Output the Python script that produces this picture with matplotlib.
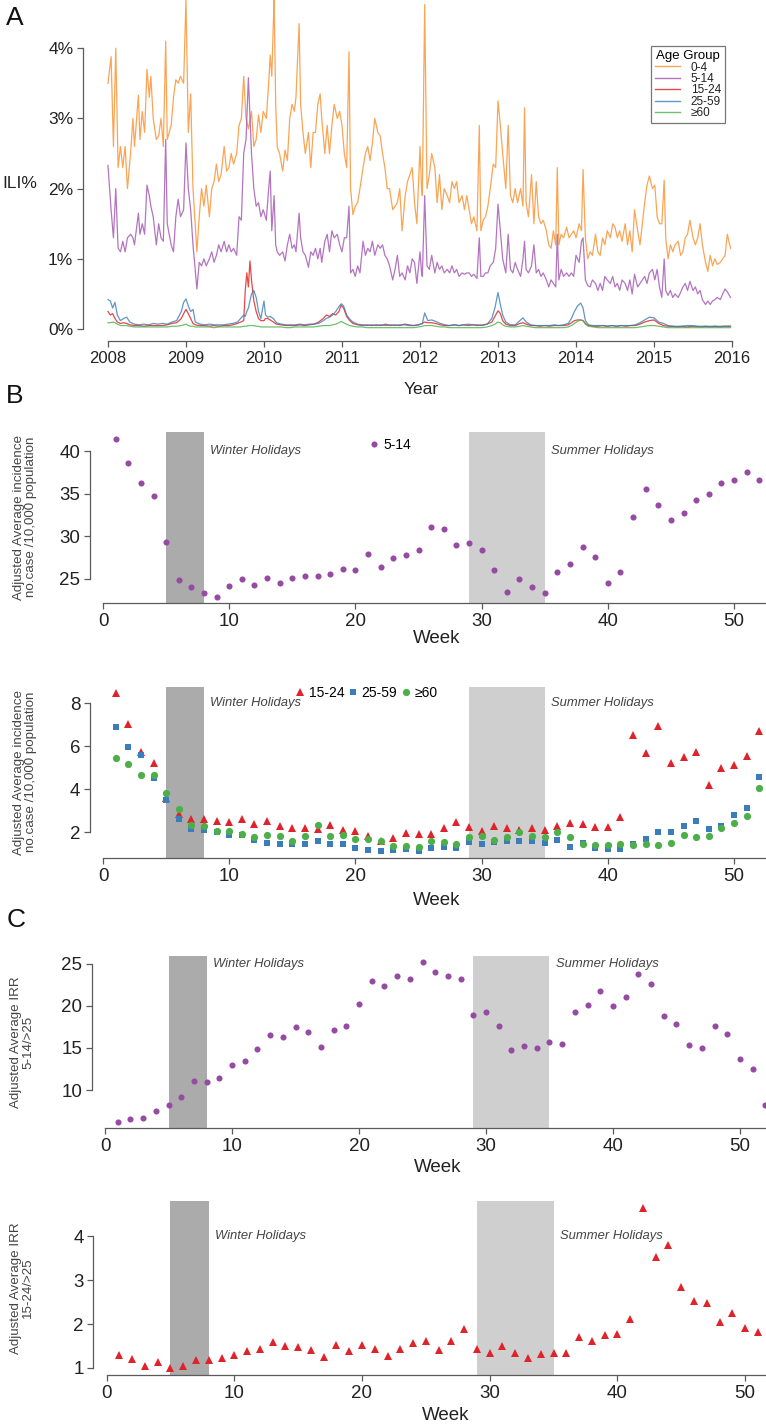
import matplotlib
matplotlib.use('Agg')
import matplotlib.pyplot as plt
import numpy as np
from matplotlib import font_manager as fm
from matplotlib.lines import Line2D

avail = {f.name for f in fm.fontManager.ttflist}
NARROW = 'Liberation Sans Narrow' if 'Liberation Sans Narrow' in avail else 'Liberation Sans'
REG = 'Liberation Sans'

# ---------------- DATA ----------------
# Panel A: weekly ILI% by age group (time in years since 2008)
t_main_off = [
    0.00,0.04,0.07,0.10,0.13,0.16,0.19,0.22,0.25,0.29,
    0.32,0.34,0.39,0.41,0.44,0.47,0.50,0.53,0.55,0.58,
    0.62,0.65,0.68,0.71,0.74,0.76,0.81,0.84,0.87,0.90,
    0.93,0.97,1.00,1.03,1.06,1.09,1.14,1.17,1.20,1.23,
    1.26,1.30,1.33,1.36,1.39,1.42,1.45,1.49,1.52,1.55,
    1.58,1.61,1.65,1.68,1.71,1.74,1.77,1.80,1.84,1.87,
    1.90,1.93,1.96,1.99,2.03,2.06,2.08,2.10,2.13,2.15,
    2.17,2.20,2.24,2.27,2.30,2.33,2.36,2.39,2.41,2.45,
    2.47,2.50,2.53,2.57,2.60,2.63,2.66,2.69,2.72,2.74,
    2.78,2.81,2.84,2.87,2.90,2.94,2.97,3.00,3.03,3.06,
    3.09,3.11,3.14,3.17,3.20,3.23,3.27,3.30,3.33,3.36,
    3.39,3.42,3.46,3.49,3.52,3.55,3.58,3.61,3.65,3.68,
    3.71,3.74,3.77,3.81,3.84,3.87,3.90,3.93,3.96,4.00,
    4.02,4.03,4.06,4.09,4.12,4.15,4.19,4.22,4.25,4.28,
    4.31,4.35,4.38,4.41,4.44,4.47,4.50,4.54,4.57,4.60,
    4.63,4.66,4.69,4.73,4.76,4.78,4.81,4.84,4.87,4.90,
    4.94,4.97,5.00,5.03,5.06,5.10,5.13,5.16,5.19,5.22,
    5.25,5.29,5.32,5.34,5.36,5.39,5.43,5.46,5.49,5.52,
    5.55,5.58,5.62,5.65,5.68,5.71,5.74,5.76,5.78,5.81,
    5.84,5.88,5.91,5.94,5.97,6.00,6.04,6.07,6.09,6.12,
    6.15,6.18,6.21,6.25,6.28,6.31,6.34,6.37,6.40,6.44,
    6.47,6.50,6.53,6.56,6.59,6.63,6.66,6.69,6.72,6.75,
    6.79,6.82,6.85,6.88,6.91,6.94,6.98,7.01,7.04,7.07,
    7.10,7.13,7.15,7.18,7.21,7.24,7.27,7.31,7.34,7.37,
    7.40,7.43,7.46,7.50,7.53,7.56,7.59,7.62,7.66,7.69,
    7.72,7.75,7.78,7.81,7.85,7.88,7.91,7.94,7.98]
ili_0_4 = [
    3.5,3.88,2.6,4.0,2.3,2.6,2.3,2.6,2.0,2.5,
    3.0,2.6,3.33,2.7,3.1,2.8,3.7,3.3,3.6,3.0,
    2.7,2.75,3.0,2.6,4.1,2.7,2.9,3.3,3.55,3.5,
    3.6,3.5,4.7,2.8,3.35,2.0,1.1,1.6,2.0,1.75,
    2.05,1.6,2.0,2.1,2.35,2.1,2.2,2.6,2.25,2.3,
    2.5,2.35,2.5,2.9,3.0,3.6,3.0,2.85,3.1,2.6,
    2.7,3.05,2.8,3.1,3.0,3.5,3.9,3.6,4.72,3.2,
    2.6,2.5,2.25,2.55,2.4,3.0,3.2,3.1,3.3,4.35,
    3.2,2.8,2.5,2.8,2.3,2.8,2.8,3.2,3.35,3.0,
    2.5,2.9,2.5,2.9,3.2,3.0,3.1,2.9,2.5,2.3,
    3.95,2.0,1.63,1.75,1.8,2.0,2.3,2.5,2.6,2.4,
    2.65,3.0,2.8,2.75,2.5,2.3,2.0,2.0,1.7,1.75,
    1.8,2.0,1.4,1.9,2.1,2.2,2.3,1.8,1.5,2.6,
    2.0,1.9,4.62,2.0,2.2,2.5,2.3,1.8,2.2,1.7,
    2.0,1.9,1.8,2.1,2.0,2.1,1.8,1.9,1.7,1.9,
    1.7,1.5,1.6,1.4,2.9,1.4,1.55,1.6,1.75,2.0,
    2.35,2.3,3.25,2.9,2.5,2.0,2.9,1.9,1.8,2.0,
    1.8,2.0,1.75,3.15,1.8,1.6,2.2,1.5,2.1,1.6,
    1.5,1.55,1.4,1.2,1.15,1.4,1.2,2.3,1.2,1.35,
    1.3,1.45,1.3,1.35,1.4,1.3,1.5,1.4,2.27,1.3,
    1.0,1.1,1.05,1.35,1.1,1.05,1.3,1.2,1.4,1.3,
    1.5,1.45,1.3,1.4,1.25,1.5,1.2,1.4,1.1,1.7,
    1.4,1.2,1.5,1.8,2.05,2.18,2.0,2.05,1.6,1.5,
    1.5,2.12,1.3,1.0,1.2,1.1,1.2,1.25,1.05,1.1,
    1.3,1.35,1.55,1.3,1.2,1.3,1.5,1.2,0.95,0.82,
    1.05,0.9,1.0,0.92,0.95,1.0,1.05,1.35,1.15]
ili_5_14 = [
    2.33,1.7,1.3,2.0,1.15,1.1,1.25,1.1,1.3,1.35,
    1.3,1.2,1.65,1.35,1.5,1.35,2.05,1.9,1.75,1.6,
    1.2,1.5,1.3,1.25,2.7,1.5,1.2,1.1,1.6,1.85,
    1.6,1.7,2.65,2.0,1.7,1.2,0.57,0.95,0.9,1.0,
    0.9,1.0,1.1,0.95,1.05,1.2,1.1,1.25,1.1,1.2,
    1.1,1.15,1.05,1.6,1.55,2.5,2.7,3.58,2.5,2.0,
    1.75,1.8,1.6,1.7,1.55,2.0,2.25,1.4,1.9,1.2,
    1.1,1.05,1.1,0.97,1.2,1.35,1.15,1.2,1.1,1.65,
    1.3,1.1,1.05,0.88,1.1,1.05,1.15,1.0,1.15,0.95,
    1.25,1.35,1.1,1.4,1.3,1.35,1.2,1.1,1.3,1.3,
    1.75,0.8,0.85,0.75,0.9,0.8,1.25,1.05,1.15,1.1,
    1.25,1.05,1.2,1.15,1.2,1.05,1.0,0.9,0.7,0.85,
    1.05,0.75,0.8,0.7,0.9,0.8,1.0,0.95,0.65,1.1,
    0.8,0.75,1.9,0.9,0.85,1.05,0.8,0.95,0.85,0.9,
    0.8,0.85,0.8,0.9,0.8,0.85,0.75,0.8,0.78,0.8,
    0.8,0.75,0.78,0.72,1.3,0.75,0.75,0.8,0.8,0.9,
    0.95,1.15,1.78,1.4,1.0,0.8,1.35,0.85,0.8,0.95,
    0.85,0.75,1.0,1.25,0.85,0.8,0.9,1.2,0.8,0.85,
    0.75,0.8,0.7,0.6,0.7,0.65,0.6,1.35,0.7,0.85,
    0.75,0.8,0.75,0.8,0.75,1.05,0.95,1.25,1.3,0.7,
    0.62,0.6,0.7,0.65,0.55,0.65,0.55,0.75,0.7,0.65,
    0.75,0.6,0.65,0.55,0.7,0.65,0.55,0.7,0.5,0.78,
    0.6,0.65,0.7,0.75,0.65,0.8,0.85,0.7,0.85,0.6,
    0.45,1.0,0.55,0.48,0.55,0.45,0.5,0.45,0.52,0.6,
    0.65,0.55,0.68,0.55,0.6,0.5,0.55,0.42,0.35,0.4,
    0.35,0.4,0.42,0.45,0.42,0.5,0.57,0.53,0.45]

t_low_off = [
    0.00,0.03,0.06,0.09,0.12,0.16,0.20,0.24,0.28,0.34,
    0.40,0.46,0.52,0.58,0.64,0.70,0.76,0.82,0.88,0.94,
    0.97,1.00,1.03,1.06,1.09,1.12,1.18,1.24,1.30,1.36,
    1.42,1.48,1.54,1.60,1.66,1.70,1.74,1.76,1.78,1.80,
    1.82,1.84,1.87,1.90,1.93,1.96,2.00,2.02,2.05,2.08,
    2.12,2.16,2.22,2.28,2.34,2.40,2.46,2.52,2.58,2.64,
    2.70,2.76,2.80,2.84,2.88,2.92,2.96,2.99,3.02,3.06,
    3.10,3.14,3.20,3.26,3.32,3.38,3.44,3.50,3.56,3.62,
    3.68,3.74,3.80,3.86,3.92,3.98,4.03,4.06,4.10,4.15,
    4.20,4.26,4.32,4.38,4.44,4.50,4.56,4.62,4.68,4.74,
    4.80,4.86,4.92,4.96,5.00,5.03,5.06,5.10,5.16,5.22,
    5.28,5.32,5.36,5.42,5.48,5.54,5.60,5.66,5.72,5.78,
    5.84,5.90,5.94,5.98,6.02,6.06,6.09,6.12,6.16,6.22,
    6.28,6.34,6.40,6.46,6.52,6.58,6.64,6.70,6.76,6.82,
    6.88,6.94,7.00,7.06,7.12,7.18,7.24,7.30,7.36,7.42,
    7.48,7.54,7.60,7.66,7.72,7.78,7.84,7.90,7.98]
ili_15_24 = [
    .25,.20,.22,.15,.10,.08,.09,.08,.06,.05,
    .05,.04,.05,.05,.05,.05,.06,.08,.09,.15,
    .22,.28,.22,.15,.08,.06,.05,.05,.04,.05,
    .04,.05,.05,.06,.08,.10,.12,.55,.80,.60,
    .97,.70,.40,.25,.15,.12,.12,.15,.15,.13,
    .10,.07,.06,.05,.05,.05,.06,.05,.06,.07,
    .10,.15,.20,.18,.22,.20,.25,.34,.30,.18,
    .12,.08,.06,.05,.06,.05,.06,.05,.07,.05,
    .06,.05,.07,.06,.05,.06,.08,.10,.09,.09,
    .08,.06,.05,.05,.06,.05,.06,.05,.06,.05,
    .06,.07,.10,.18,.26,.22,.12,.07,.05,.05,
    .08,.09,.07,.05,.05,.04,.05,.04,.05,.05,
    .05,.06,.09,.12,.13,.13,.12,.08,.05,.04,
    .04,.05,.04,.05,.04,.05,.04,.05,.05,.07,
    .10,.12,.13,.08,.05,.04,.04,.03,.04,.03,
    .04,.04,.03,.04,.03,.04,.03,.04,.04]
ili_25_59 = [
    .42,.40,.30,.38,.20,.12,.15,.17,.10,.07,
    .06,.07,.06,.08,.07,.08,.07,.10,.12,.25,
    .38,.43,.33,.25,.28,.10,.07,.06,.07,.06,
    .06,.06,.07,.08,.10,.15,.20,.18,.25,.30,
    .40,.50,.55,.45,.25,.15,.40,.20,.17,.18,
    .15,.09,.07,.06,.06,.06,.07,.06,.07,.07,
    .08,.12,.15,.17,.20,.25,.32,.36,.33,.20,
    .14,.10,.07,.06,.05,.06,.05,.06,.05,.06,
    .05,.06,.06,.05,.05,.06,.08,.23,.12,.13,
    .11,.08,.06,.05,.06,.05,.06,.07,.06,.06,
    .05,.07,.15,.30,.52,.35,.20,.10,.06,.06,
    .12,.16,.10,.06,.05,.05,.05,.05,.06,.05,
    .06,.08,.15,.25,.33,.37,.30,.12,.06,.05,
    .05,.05,.04,.05,.04,.05,.05,.05,.06,.09,
    .13,.17,.16,.10,.08,.05,.04,.04,.04,.05,
    .05,.04,.04,.04,.04,.04,.04,.04,.04]
ili_60 = [
    .09,.09,.10,.09,.07,.05,.05,.05,.04,.03,
    .03,.03,.03,.03,.03,.03,.03,.04,.04,.05,
    .06,.07,.05,.04,.04,.03,.03,.03,.03,.02,
    .03,.03,.03,.03,.03,.03,.04,.04,.04,.05,
    .05,.05,.05,.04,.04,.03,.03,.03,.03,.03,
    .03,.03,.03,.02,.02,.03,.03,.03,.03,.03,
    .04,.05,.05,.05,.06,.07,.09,.11,.09,.07,
    .05,.04,.03,.03,.02,.02,.02,.02,.02,.02,
    .02,.02,.02,.02,.02,.03,.04,.05,.05,.05,
    .04,.03,.03,.02,.02,.02,.02,.02,.02,.02,
    .02,.03,.05,.07,.10,.09,.06,.04,.03,.03,
    .04,.05,.04,.03,.02,.02,.02,.02,.02,.02,
    .02,.03,.05,.08,.11,.13,.12,.07,.04,.03,
    .02,.02,.02,.02,.02,.02,.02,.02,.02,.03,
    .04,.05,.05,.04,.03,.02,.02,.02,.02,.02,
    .02,.02,.02,.02,.02,.02,.02,.02,.02]

age_labels = ['0-4', '5-14', '15-24', '25-59', '\u226560']
year_ticks = list(range(2008, 2017))

# Panels B/C: weekly values
weeks = list(range(1, 53))
inc_5_14 = [41.4,38.6,36.3,34.7,29.3,24.9,24.0,23.3,22.9,24.2,
            25.0,24.3,25.1,24.5,25.1,25.3,25.3,25.6,26.1,26.0,
            27.9,26.4,27.4,27.8,28.4,31.1,30.9,29.0,29.2,28.4,
            26.0,23.5,25.0,24.0,23.3,25.8,26.7,28.7,27.6,24.5,
            25.8,32.3,35.6,33.7,31.9,32.7,34.2,35.0,36.3,36.6,
            37.6,36.6]
inc_15_24 = [8.46,7.05,5.72,5.24,3.6,2.84,2.64,2.6,2.52,2.5,
             2.62,2.41,2.52,2.29,2.21,2.18,2.15,2.35,2.12,2.06,
             1.83,1.58,1.74,1.95,1.92,1.92,2.2,2.46,2.27,2.07,
             2.3,2.21,2.1,2.2,2.12,2.3,2.43,2.38,2.27,2.26,
             2.72,6.5,5.7,6.94,5.2,5.52,5.73,4.22,4.97,5.14,
             5.55,6.73]
inc_25_59 = [6.87,5.98,5.61,4.54,3.5,2.61,2.15,2.12,2.0,1.87,
             1.89,1.66,1.49,1.48,1.48,1.48,1.58,1.46,1.45,1.26,
             1.16,1.12,1.19,1.23,1.14,1.29,1.32,1.26,1.57,1.45,
             1.54,1.6,1.61,1.61,1.49,1.64,1.34,1.51,1.26,1.23,
             1.23,1.45,1.69,2.0,2.0,2.29,2.52,2.14,2.3,2.82,
             3.15,4.57]
inc_60 = [5.44,5.18,4.66,4.66,3.82,3.07,2.32,2.3,2.06,2.06,
          1.92,1.77,1.89,1.84,1.61,1.84,2.33,1.84,1.89,1.68,
          1.71,1.58,1.38,1.38,1.34,1.58,1.57,1.45,1.8,1.83,
          1.63,1.78,2.03,1.83,1.78,2.03,1.8,1.46,1.43,1.4,
          1.45,1.43,1.48,1.43,1.52,1.89,1.78,1.83,2.18,2.43,
          2.76,4.06]
irr_5_14 = [6.27,6.6,6.7,7.57,8.2,9.2,11.06,10.98,11.45,12.95,
            13.5,14.9,16.5,16.24,17.46,16.9,15.07,17.15,17.6,20.17,
            22.9,22.37,23.5,23.15,25.15,23.98,23.5,23.2,18.87,19.2,
            17.6,14.8,15.18,14.99,15.66,15.5,19.3,20.1,21.8,19.93,
            21.07,23.74,22.57,18.84,17.78,15.38,14.99,17.6,16.6,13.73,
            12.5,8.23]
irr_15_24 = [1.30,1.21,1.05,1.14,0.99,1.05,1.18,1.18,1.22,1.30,
             1.38,1.43,1.60,1.49,1.48,1.41,1.26,1.52,1.38,1.52,
             1.43,1.27,1.43,1.56,1.61,1.42,1.62,1.89,1.43,1.33,
             1.51,1.33,1.23,1.32,1.34,1.35,1.71,1.62,1.74,1.78,
             2.12,4.65,3.52,3.80,2.84,2.53,2.47,2.05,2.24,1.90,
             1.82,1.53]

winter = (5, 8)
summer = (29, 35)

# ---------------- STYLE ----------------
W, H = 766, 1424
fig = plt.figure(figsize=(W / 100, H / 100), dpi=100)
AXC = '#5a5a5a'
TXT = '#222222'
LAB = '#444444'
line_cols = ['#F98E2B', '#A052B0', '#E41A1C', '#377EB8', '#4DAF4A']
C_PUR = '#964BA3'
C_RED = '#E0232A'
C_BLU = '#3B7DBB'
C_GRN = '#4DAF4A'
WINTER_C = '#ABABAB'
SUMMER_C = '#CFCFCF'


def ax_px(l, t, r, b):
    return fig.add_axes([l / W, 1 - b / H, (r - l) / W, (b - t) / H])


def rstyle(ax, xb, yb, fs_x, fs_y):
    for s in ['top', 'right']:
        ax.spines[s].set_visible(False)
    for s in ['left', 'bottom']:
        ax.spines[s].set_color(AXC)
        ax.spines[s].set_linewidth(0.9)
    ax.spines['left'].set_bounds(*yb)
    ax.spines['bottom'].set_bounds(*xb)
    ax.tick_params(direction='out', length=4, width=0.9, color=AXC,
                   labelcolor=TXT)
    ax.tick_params(axis='x', pad=3)
    ax.tick_params(axis='y', pad=3)
    for lbl in ax.get_xticklabels():
        lbl.set_fontfamily(NARROW)
        lbl.set_fontsize(fs_x)
    for lbl in ax.get_yticklabels():
        lbl.set_fontfamily(NARROW)
        lbl.set_fontsize(fs_y)
    ax.patch.set_visible(False)


def ftext(x, y, s, **kw):
    return fig.text(x / W, 1 - y / H, s, **kw)


# ---------------- PANEL A ----------------
axA = ax_px(83, -15, 757, 341)
tA = 2008 + np.array(t_main_off)
tL = 2008 + np.array(t_low_off)
series = [(tA, ili_0_4), (tA, ili_5_14), (tL, ili_15_24), (tL, ili_25_59), (tL, ili_60)]
for (tt, vv), c in zip(series, line_cols):
    axA.plot(tt, vv, color=c, lw=0.9, alpha=0.8)
axA.set_xlim(2007.68, 2016.32)
axA.set_ylim(-0.17, 4.9)
axA.set_xticks(year_ticks)
axA.set_yticks([0, 1, 2, 3, 4])
axA.set_yticklabels(['0%', '1%', '2%', '3%', '4%'])
rstyle(axA, (2008, 2016), (0, 4), 12, 12.5)
ftext(20, 184, 'ILI%', ha='center', va='center', fontsize=12.5,
      family=NARROW, color=TXT)
ftext(421, 389, 'Year', ha='center', va='center', fontsize=12.5,
      family=NARROW, color=TXT)
handles = [Line2D([], [], color=c, lw=1.0, alpha=0.8) for c in line_cols]
leg = axA.legend(handles, age_labels, title='Age Group', loc='upper left',
                 bbox_to_anchor=(651 / W, 1 - 46 / H),
                 bbox_transform=fig.transFigure, frameon=True, fancybox=False,
                 edgecolor='#555555', prop={'family': REG, 'size': 8.5},
                 labelspacing=-0.05, handlelength=2.1, handletextpad=0.9,
                 borderpad=0.35, borderaxespad=0)
leg.get_title().set_fontfamily(REG)
leg.get_title().set_fontsize(9.5)
leg.get_frame().set_linewidth(0.9)
for t in leg.get_texts():
    t.set_color(TXT)


# ---------------- helper for week panels ----------------
def week_axes(l, t, r, b, ylim, yticks, fs_x=13.5, fs_y=13.5):
    ax = ax_px(l, t, r, b)
    ax.axvspan(*winter, color=WINTER_C, lw=0, zorder=0)
    ax.axvspan(*summer, color=SUMMER_C, lw=0, zorder=0)
    ax.set_xlim(-1.04, 54.04)
    ax.set_ylim(*ylim)
    ax.set_xticks([0, 10, 20, 30, 40, 50])
    ax.set_yticks(yticks)
    rstyle(ax, (0, 54.04), (yticks[0], yticks[-1]), fs_x, fs_y)
    ytxt = yticks[-1]
    ax.text(winter[1] + 0.5, ytxt, 'Winter Holidays', style='italic',
            family=NARROW, fontsize=9.4, color=LAB, va='center', ha='left')
    ax.text(summer[1] + 0.5, ytxt, 'Summer Holidays', style='italic',
            family=NARROW, fontsize=9.4, color=LAB, va='center', ha='left')
    return ax


# ---------------- PANEL B (top) ----------------
axB1 = week_axes(89.9, 432, 785, 603, (22.15, 42.25), [25, 30, 35, 40])
axB1.plot(weeks, inc_5_14, 'o', ms=4.4, mew=0, color=C_PUR, label='5-14')
lg = axB1.legend(loc='center left', bbox_to_anchor=(370 / W, 1 - 445 / H),
                 bbox_transform=fig.transFigure, frameon=False,
                 handlelength=0.6, handletextpad=0.4, borderpad=0,
                 borderaxespad=0, prop={'family': NARROW, 'size': 10})
ftext(25, 517, 'Adjusted Average incidence\nno.case /10,000 population',
      rotation=90, ha='center', va='center', fontsize=9.6, family=REG,
      color=LAB, linespacing=1.05, multialignment='center')
ftext(437, 638, 'Week', ha='center', va='center', fontsize=13.5,
      family=NARROW, color=TXT)
ftext(15, 396, 'B', ha='center', va='center', fontsize=19, family=REG,
      color='#111111')

# ---------------- PANEL B (bottom) ----------------
axB2 = week_axes(89.9, 687, 785, 858, (0.81, 8.75), [2, 4, 6, 8])
axB2.plot(weeks, inc_15_24, '^', ms=5.6, mew=0, color=C_RED, label='15-24')
axB2.plot(weeks, inc_25_59, 's', ms=4.6, mew=0, color=C_BLU, label='25-59')
axB2.plot(weeks, inc_60, 'o', ms=5.2, mew=0, color=C_GRN, label='\u226560')
axB2.legend(loc='center left', bbox_to_anchor=(296 / W, 1 - 693 / H),
            bbox_transform=fig.transFigure, frameon=False, ncol=3,
            handlelength=0.6, handletextpad=0.3, columnspacing=0.35,
            borderpad=0, borderaxespad=0, prop={'family': NARROW, 'size': 10})
ftext(25, 772, 'Adjusted Average incidence\nno.case /10,000 population',
      rotation=90, ha='center', va='center', fontsize=9.6, family=REG,
      color=LAB, linespacing=1.05, multialignment='center')
ftext(437, 900, 'Week', ha='center', va='center', fontsize=13.5,
      family=NARROW, color=TXT)

# ---------------- PANEL C (top) ----------------
axC1 = week_axes(91.8, 956, 791.3, 1128, (5.5, 25.9), [10, 15, 20, 25])
axC1.plot(weeks, irr_5_14, 'o', ms=4.4, mew=0, color=C_PUR)
ftext(22, 1042, 'Adjusted Average IRR\n5-14/>25', rotation=90, ha='center',
      va='center', fontsize=9.6, family=REG, color=LAB, linespacing=1.05,
      multialignment='center')
ftext(438, 1167, 'Week', ha='center', va='center', fontsize=13.5,
      family=NARROW, color=TXT)
ftext(16, 920, 'C', ha='center', va='center', fontsize=19, family=REG,
      color='#111111')

# ---------------- PANEL C (bottom) ----------------
axC2 = week_axes(93.3, 1201, 796.7, 1375, (0.84, 4.8), [1, 2, 3, 4])
axC2.plot(weeks, irr_15_24, '^', ms=5.6, mew=0, color=C_RED)
ftext(22, 1288, 'Adjusted Average IRR\n15-24/>25', rotation=90, ha='center',
      va='center', fontsize=9.6, family=REG, color=LAB, linespacing=1.05,
      multialignment='center')
ftext(446, 1415, 'Week', ha='center', va='center', fontsize=13.5,
      family=NARROW, color=TXT)

ftext(15, 18, 'A', ha='center', va='center', fontsize=19, family=REG,
      color='#111111')

fig.savefig('out.png', dpi=100)
